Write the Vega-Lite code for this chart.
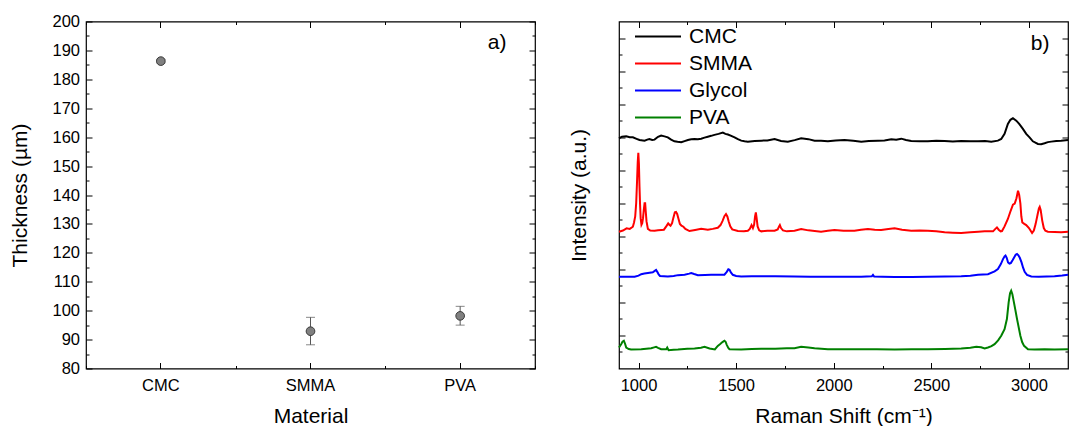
{
  "$schema": "https://vega.github.io/schema/vega-lite/v6.json",
  "background": "white",
  "padding": {"left": 9, "top": 12.5, "right": 4, "bottom": 0},
  "config": {
    "font": "Liberation Sans",
    "view": {"stroke": "#000", "strokeWidth": 1.2},
    "axis": {"grid": false, "domain": false, "tickColor": "#000", "tickWidth": 1, "labelColor": "#000", "titleColor": "#000", "labelFont": "Liberation Sans", "titleFont": "Liberation Sans", "labelFontSize": 16.5, "titleFontSize": 21, "titleFontWeight": "normal"},
    "concat": {"spacing": 30}
  },
  "resolve": {"legend": {"color": "independent"}, "scale": {"color": "independent"}},
  "hconcat": [
    {
      "width": 449,
      "height": 347,
      "data": {"values": [
        {"Material": "CMC", "Thickness": 186.3, "lo": 185.7, "hi": 186.9},
        {"Material": "SMMA", "Thickness": 92.9, "lo": 88.2, "hi": 97.7},
        {"Material": "PVA", "Thickness": 98.2, "lo": 95.0, "hi": 101.5}
      ]},
      "resolve": {"axis": {"x": "independent", "y": "independent"}},
      "layer": [
        {
          "mark": {"type": "rule", "color": "#555", "strokeWidth": 1},
          "encoding": {
            "x": {"field": "Material", "type": "nominal", "sort": ["CMC", "SMMA", "PVA"], "scale": {"type": "band", "paddingInner": 0, "paddingOuter": 0},
              "axis": {"orient": "bottom", "title": "Material", "labelAngle": 0, "tickSize": -6, "labelPadding": 15, "titlePadding": 11}},
            "y": {"field": "lo", "type": "quantitative", "scale": {"domain": [80, 200], "nice": false, "zero": false},
              "axis": {"orient": "left", "title": "Thickness (µm)", "values": [80,90,100,110,120,130,140,150,160,170,180,190,200],
                "tickSize": -6, "labelPadding": 12.5, "titlePadding": 21}},
            "y2": {"field": "hi"}
          }
        },
        {
          "mark": {"type": "tick", "color": "#555", "size": 9, "thickness": 1, "orient": "horizontal"},
          "encoding": {
            "x": {"field": "Material", "type": "nominal", "sort": ["CMC", "SMMA", "PVA"],
              "axis": {"orient": "bottom", "tickBand": "extent", "labels": false, "title": null, "tickSize": -3}},
            "y": {"field": "lo", "type": "quantitative",
              "axis": {"orient": "left", "values": [85,95,105,115,125,135,145,155,165,175,185,195], "tickSize": -3, "labels": false, "title": null}}
          }
        },
        {
          "mark": {"type": "tick", "color": "#555", "size": 9, "thickness": 1, "orient": "horizontal"},
          "encoding": {
            "x": {"field": "Material", "type": "nominal", "sort": ["CMC", "SMMA", "PVA"],
              "axis": {"orient": "top", "labels": false, "title": null, "tickSize": -6}},
            "y": {"field": "hi", "type": "quantitative",
              "axis": {"orient": "right", "values": [80,90,100,110,120,130,140,150,160,170,180,190,200], "tickSize": -6, "labels": false, "title": null}}
          }
        },
        {
          "mark": {"type": "circle", "size": 75, "fill": "#808080", "stroke": "#3a3a3a", "strokeWidth": 1, "opacity": 1},
          "encoding": {
            "x": {"field": "Material", "type": "nominal", "sort": ["CMC", "SMMA", "PVA"],
              "axis": {"orient": "top", "tickBand": "extent", "labels": false, "title": null, "tickSize": -3}},
            "y": {"field": "Thickness", "type": "quantitative",
              "axis": {"orient": "right", "values": [85,95,105,115,125,135,145,155,165,175,185,195], "tickSize": -3, "labels": false, "title": null}}
          }
        },
        {
          "data": {"values": [{"Material": "PVA", "Thickness": 192.7, "label": "a)"}]},
          "mark": {"type": "text", "dx": 37, "fontSize": 21, "align": "center", "baseline": "middle", "color": "#000", "font": "Liberation Sans"},
          "encoding": {
            "x": {"field": "Material", "type": "nominal", "sort": ["CMC", "SMMA", "PVA"], "axis": null},
            "y": {"field": "Thickness", "type": "quantitative", "axis": null},
            "text": {"field": "label"}
          }
        }
      ]
    },
    {
      "width": 449,
      "height": 347,
      "data": {"values": [
        {"series":"CMC","shift":900,"intensity":13.93},{"series":"CMC","shift":915,"intensity":14.03},{"series":"CMC","shift":937,"intensity":14.05},{"series":"CMC","shift":955,"intensity":14.0},{"series":"CMC","shift":971,"intensity":13.99},{"series":"CMC","shift":990,"intensity":13.9},{"series":"CMC","shift":1005,"intensity":13.83},{"series":"CMC","shift":1031,"intensity":13.79},{"series":"CMC","shift":1045,"intensity":13.85},{"series":"CMC","shift":1056,"intensity":13.89},{"series":"CMC","shift":1070,"intensity":13.83},{"series":"CMC","shift":1082,"intensity":13.85},{"series":"CMC","shift":1100,"intensity":14.02},{"series":"CMC","shift":1116,"intensity":14.1},{"series":"CMC","shift":1133,"intensity":14.05},{"series":"CMC","shift":1150,"intensity":13.99},{"series":"CMC","shift":1167,"intensity":13.85},{"series":"CMC","shift":1184,"intensity":13.75},{"series":"CMC","shift":1200,"intensity":13.72},{"series":"CMC","shift":1219,"intensity":13.69},{"series":"CMC","shift":1236,"intensity":13.76},{"series":"CMC","shift":1253,"intensity":13.83},{"series":"CMC","shift":1270,"intensity":13.87},{"series":"CMC","shift":1287,"intensity":13.89},{"series":"CMC","shift":1304,"intensity":13.88},{"series":"CMC","shift":1321,"intensity":13.91},{"series":"CMC","shift":1338,"intensity":13.97},{"series":"CMC","shift":1355,"intensity":14.03},{"series":"CMC","shift":1372,"intensity":14.08},{"series":"CMC","shift":1389,"intensity":14.14},{"series":"CMC","shift":1410,"intensity":14.2},{"series":"CMC","shift":1432,"intensity":14.28},{"series":"CMC","shift":1445,"intensity":14.2},{"series":"CMC","shift":1458,"intensity":14.16},{"series":"CMC","shift":1475,"intensity":14.08},{"series":"CMC","shift":1492,"intensity":13.99},{"series":"CMC","shift":1509,"intensity":13.88},{"series":"CMC","shift":1526,"intensity":13.79},{"series":"CMC","shift":1543,"intensity":13.75},{"series":"CMC","shift":1560,"intensity":13.73},{"series":"CMC","shift":1595,"intensity":13.77},{"series":"CMC","shift":1629,"intensity":13.79},{"series":"CMC","shift":1660,"intensity":13.8},{"series":"CMC","shift":1697,"intensity":13.89},{"series":"CMC","shift":1730,"intensity":13.77},{"series":"CMC","shift":1765,"intensity":13.73},{"series":"CMC","shift":1800,"intensity":13.82},{"series":"CMC","shift":1833,"intensity":13.93},{"series":"CMC","shift":1870,"intensity":13.88},{"series":"CMC","shift":1902,"intensity":13.79},{"series":"CMC","shift":1935,"intensity":13.78},{"series":"CMC","shift":1970,"intensity":13.75},{"series":"CMC","shift":2010,"intensity":13.8},{"series":"CMC","shift":2055,"intensity":13.83},{"series":"CMC","shift":2100,"intensity":13.79},{"series":"CMC","shift":2141,"intensity":13.73},{"series":"CMC","shift":2180,"intensity":13.77},{"series":"CMC","shift":2226,"intensity":13.79},{"series":"CMC","shift":2260,"intensity":13.8},{"series":"CMC","shift":2295,"intensity":13.87},{"series":"CMC","shift":2320,"intensity":13.85},{"series":"CMC","shift":2346,"intensity":13.91},{"series":"CMC","shift":2370,"intensity":13.83},{"series":"CMC","shift":2397,"intensity":13.77},{"series":"CMC","shift":2440,"intensity":13.76},{"series":"CMC","shift":2482,"intensity":13.75},{"series":"CMC","shift":2525,"intensity":13.78},{"series":"CMC","shift":2568,"intensity":13.77},{"series":"CMC","shift":2610,"intensity":13.74},{"series":"CMC","shift":2653,"intensity":13.77},{"series":"CMC","shift":2700,"intensity":13.76},{"series":"CMC","shift":2739,"intensity":13.75},{"series":"CMC","shift":2775,"intensity":13.77},{"series":"CMC","shift":2807,"intensity":13.73},{"series":"CMC","shift":2841,"intensity":13.79},{"series":"CMC","shift":2858,"intensity":13.89},{"series":"CMC","shift":2875,"intensity":14.2},{"series":"CMC","shift":2892,"intensity":14.8},{"series":"CMC","shift":2905,"intensity":15.05},{"series":"CMC","shift":2918,"intensity":15.15},{"series":"CMC","shift":2935,"intensity":15.0},{"series":"CMC","shift":2950,"intensity":14.8},{"series":"CMC","shift":2969,"intensity":14.5},{"series":"CMC","shift":2986,"intensity":14.2},{"series":"CMC","shift":3003,"intensity":13.99},{"series":"CMC","shift":3020,"intensity":13.75},{"series":"CMC","shift":3046,"intensity":13.59},{"series":"CMC","shift":3063,"intensity":13.57},{"series":"CMC","shift":3080,"intensity":13.63},{"series":"CMC","shift":3097,"intensity":13.7},{"series":"CMC","shift":3114,"intensity":13.73},{"series":"CMC","shift":3140,"intensity":13.77},{"series":"CMC","shift":3165,"intensity":13.79},{"series":"CMC","shift":3200,"intensity":13.83},
        {"series":"SMMA","shift":900,"intensity":8.28},{"series":"SMMA","shift":920,"intensity":8.35},{"series":"SMMA","shift":939,"intensity":8.48},{"series":"SMMA","shift":955,"intensity":8.45},{"series":"SMMA","shift":971,"intensity":8.58},{"series":"SMMA","shift":977,"intensity":8.84},{"series":"SMMA","shift":983,"intensity":9.2},{"series":"SMMA","shift":988,"intensity":10.0},{"series":"SMMA","shift":992,"intensity":11.2},{"series":"SMMA","shift":996,"intensity":12.5},{"series":"SMMA","shift":999,"intensity":13.05},{"series":"SMMA","shift":1002,"intensity":12.4},{"series":"SMMA","shift":1005,"intensity":11.0},{"series":"SMMA","shift":1008,"intensity":9.9},{"series":"SMMA","shift":1011,"intensity":9.1},{"series":"SMMA","shift":1015,"intensity":8.7},{"series":"SMMA","shift":1019,"intensity":8.8},{"series":"SMMA","shift":1023,"intensity":9.1},{"series":"SMMA","shift":1027,"intensity":9.6},{"series":"SMMA","shift":1031,"intensity":10.0},{"series":"SMMA","shift":1034,"intensity":10.0},{"series":"SMMA","shift":1037,"intensity":9.5},{"series":"SMMA","shift":1041,"intensity":8.9},{"series":"SMMA","shift":1048,"intensity":8.45},{"series":"SMMA","shift":1060,"intensity":8.35},{"series":"SMMA","shift":1082,"intensity":8.34},{"series":"SMMA","shift":1100,"intensity":8.36},{"series":"SMMA","shift":1116,"intensity":8.38},{"series":"SMMA","shift":1130,"intensity":8.4},{"series":"SMMA","shift":1142,"intensity":8.6},{"series":"SMMA","shift":1152,"intensity":8.78},{"series":"SMMA","shift":1158,"intensity":8.7},{"series":"SMMA","shift":1164,"intensity":8.64},{"series":"SMMA","shift":1172,"intensity":8.8},{"series":"SMMA","shift":1178,"intensity":9.1},{"series":"SMMA","shift":1186,"intensity":9.45},{"series":"SMMA","shift":1192,"intensity":9.47},{"series":"SMMA","shift":1198,"intensity":9.35},{"series":"SMMA","shift":1205,"intensity":9.05},{"series":"SMMA","shift":1212,"intensity":8.75},{"series":"SMMA","shift":1220,"intensity":8.64},{"series":"SMMA","shift":1230,"intensity":8.58},{"series":"SMMA","shift":1240,"intensity":8.45},{"series":"SMMA","shift":1261,"intensity":8.32},{"series":"SMMA","shift":1290,"intensity":8.38},{"series":"SMMA","shift":1321,"intensity":8.45},{"series":"SMMA","shift":1355,"intensity":8.4},{"series":"SMMA","shift":1380,"intensity":8.45},{"series":"SMMA","shift":1406,"intensity":8.52},{"series":"SMMA","shift":1420,"intensity":8.68},{"series":"SMMA","shift":1430,"intensity":8.92},{"series":"SMMA","shift":1440,"intensity":9.22},{"series":"SMMA","shift":1448,"intensity":9.35},{"series":"SMMA","shift":1455,"intensity":9.2},{"series":"SMMA","shift":1462,"intensity":8.9},{"series":"SMMA","shift":1470,"intensity":8.6},{"series":"SMMA","shift":1480,"intensity":8.42},{"series":"SMMA","shift":1509,"intensity":8.32},{"series":"SMMA","shift":1540,"intensity":8.3},{"series":"SMMA","shift":1560,"intensity":8.34},{"series":"SMMA","shift":1570,"intensity":8.45},{"series":"SMMA","shift":1579,"intensity":8.68},{"series":"SMMA","shift":1586,"intensity":8.5},{"series":"SMMA","shift":1592,"intensity":8.7},{"series":"SMMA","shift":1597,"intensity":9.2},{"series":"SMMA","shift":1601,"intensity":9.45},{"series":"SMMA","shift":1605,"intensity":9.1},{"series":"SMMA","shift":1610,"intensity":8.6},{"series":"SMMA","shift":1618,"intensity":8.36},{"series":"SMMA","shift":1629,"intensity":8.3},{"series":"SMMA","shift":1660,"intensity":8.34},{"series":"SMMA","shift":1697,"intensity":8.34},{"series":"SMMA","shift":1713,"intensity":8.42},{"series":"SMMA","shift":1720,"intensity":8.6},{"series":"SMMA","shift":1724,"intensity":8.68},{"series":"SMMA","shift":1730,"intensity":8.5},{"series":"SMMA","shift":1740,"intensity":8.36},{"series":"SMMA","shift":1760,"intensity":8.3},{"series":"SMMA","shift":1799,"intensity":8.34},{"series":"SMMA","shift":1833,"intensity":8.44},{"series":"SMMA","shift":1870,"intensity":8.36},{"series":"SMMA","shift":1935,"intensity":8.28},{"series":"SMMA","shift":1970,"intensity":8.33},{"series":"SMMA","shift":2004,"intensity":8.38},{"series":"SMMA","shift":2050,"intensity":8.34},{"series":"SMMA","shift":2106,"intensity":8.34},{"series":"SMMA","shift":2140,"intensity":8.4},{"series":"SMMA","shift":2175,"intensity":8.44},{"series":"SMMA","shift":2210,"intensity":8.4},{"series":"SMMA","shift":2243,"intensity":8.38},{"series":"SMMA","shift":2280,"intensity":8.44},{"series":"SMMA","shift":2312,"intensity":8.48},{"series":"SMMA","shift":2350,"intensity":8.4},{"series":"SMMA","shift":2397,"intensity":8.34},{"series":"SMMA","shift":2440,"intensity":8.35},{"series":"SMMA","shift":2482,"intensity":8.34},{"series":"SMMA","shift":2525,"intensity":8.3},{"series":"SMMA","shift":2568,"intensity":8.24},{"series":"SMMA","shift":2610,"intensity":8.22},{"series":"SMMA","shift":2653,"intensity":8.2},{"series":"SMMA","shift":2700,"intensity":8.24},{"series":"SMMA","shift":2740,"intensity":8.28},{"series":"SMMA","shift":2773,"intensity":8.3},{"series":"SMMA","shift":2816,"intensity":8.3},{"series":"SMMA","shift":2828,"intensity":8.45},{"series":"SMMA","shift":2836,"intensity":8.54},{"series":"SMMA","shift":2845,"intensity":8.4},{"series":"SMMA","shift":2855,"intensity":8.3},{"series":"SMMA","shift":2862,"intensity":8.32},{"series":"SMMA","shift":2875,"intensity":8.6},{"series":"SMMA","shift":2892,"intensity":9.05},{"series":"SMMA","shift":2905,"intensity":9.5},{"series":"SMMA","shift":2918,"intensity":9.92},{"series":"SMMA","shift":2927,"intensity":9.98},{"series":"SMMA","shift":2936,"intensity":10.3},{"series":"SMMA","shift":2944,"intensity":10.76},{"series":"SMMA","shift":2950,"intensity":10.5},{"series":"SMMA","shift":2956,"intensity":10.0},{"series":"SMMA","shift":2961,"intensity":9.2},{"series":"SMMA","shift":2966,"intensity":8.84},{"series":"SMMA","shift":2976,"intensity":8.75},{"series":"SMMA","shift":2986,"intensity":8.68},{"series":"SMMA","shift":3000,"intensity":8.5},{"series":"SMMA","shift":3016,"intensity":8.2},{"series":"SMMA","shift":3025,"intensity":8.35},{"series":"SMMA","shift":3034,"intensity":8.74},{"series":"SMMA","shift":3044,"intensity":9.3},{"series":"SMMA","shift":3051,"intensity":9.7},{"series":"SMMA","shift":3055,"intensity":9.79},{"series":"SMMA","shift":3060,"intensity":9.6},{"series":"SMMA","shift":3068,"intensity":8.95},{"series":"SMMA","shift":3076,"intensity":8.5},{"series":"SMMA","shift":3084,"intensity":8.34},{"series":"SMMA","shift":3097,"intensity":8.28},{"series":"SMMA","shift":3131,"intensity":8.26},{"series":"SMMA","shift":3165,"intensity":8.24},{"series":"SMMA","shift":3200,"intensity":8.28},
        {"series":"Glycol","shift":900,"intensity":5.55},{"series":"Glycol","shift":940,"intensity":5.55},{"series":"Glycol","shift":980,"intensity":5.55},{"series":"Glycol","shift":1000,"intensity":5.62},{"series":"Glycol","shift":1014,"intensity":5.71},{"series":"Glycol","shift":1030,"intensity":5.75},{"series":"Glycol","shift":1048,"intensity":5.78},{"series":"Glycol","shift":1073,"intensity":5.82},{"series":"Glycol","shift":1085,"intensity":5.92},{"series":"Glycol","shift":1090,"intensity":5.96},{"series":"Glycol","shift":1096,"intensity":5.85},{"series":"Glycol","shift":1103,"intensity":5.7},{"series":"Glycol","shift":1110,"intensity":5.6},{"series":"Glycol","shift":1150,"intensity":5.57},{"series":"Glycol","shift":1180,"intensity":5.6},{"series":"Glycol","shift":1202,"intensity":5.65},{"series":"Glycol","shift":1236,"intensity":5.67},{"series":"Glycol","shift":1260,"intensity":5.74},{"series":"Glycol","shift":1270,"intensity":5.78},{"series":"Glycol","shift":1285,"intensity":5.72},{"series":"Glycol","shift":1304,"intensity":5.65},{"series":"Glycol","shift":1340,"intensity":5.66},{"series":"Glycol","shift":1372,"intensity":5.67},{"series":"Glycol","shift":1410,"intensity":5.68},{"series":"Glycol","shift":1440,"intensity":5.68},{"series":"Glycol","shift":1452,"intensity":5.85},{"series":"Glycol","shift":1460,"intensity":6.0},{"series":"Glycol","shift":1466,"intensity":5.97},{"series":"Glycol","shift":1473,"intensity":5.82},{"series":"Glycol","shift":1483,"intensity":5.67},{"series":"Glycol","shift":1500,"intensity":5.6},{"series":"Glycol","shift":1526,"intensity":5.57},{"series":"Glycol","shift":1580,"intensity":5.59},{"series":"Glycol","shift":1629,"intensity":5.59},{"series":"Glycol","shift":1700,"intensity":5.58},{"series":"Glycol","shift":1799,"intensity":5.57},{"series":"Glycol","shift":1880,"intensity":5.56},{"series":"Glycol","shift":1970,"intensity":5.55},{"series":"Glycol","shift":2060,"intensity":5.56},{"series":"Glycol","shift":2141,"intensity":5.55},{"series":"Glycol","shift":2195,"intensity":5.58},{"series":"Glycol","shift":2201,"intensity":5.67},{"series":"Glycol","shift":2207,"intensity":5.57},{"series":"Glycol","shift":2250,"intensity":5.55},{"series":"Glycol","shift":2312,"intensity":5.53},{"series":"Glycol","shift":2400,"intensity":5.54},{"series":"Glycol","shift":2482,"intensity":5.55},{"series":"Glycol","shift":2570,"intensity":5.57},{"series":"Glycol","shift":2653,"intensity":5.59},{"series":"Glycol","shift":2700,"intensity":5.62},{"series":"Glycol","shift":2739,"intensity":5.67},{"series":"Glycol","shift":2790,"intensity":5.71},{"series":"Glycol","shift":2824,"intensity":5.88},{"series":"Glycol","shift":2841,"intensity":6.02},{"series":"Glycol","shift":2856,"intensity":6.32},{"series":"Glycol","shift":2867,"intensity":6.62},{"series":"Glycol","shift":2875,"intensity":6.78},{"series":"Glycol","shift":2880,"intensity":6.83},{"series":"Glycol","shift":2886,"intensity":6.7},{"series":"Glycol","shift":2893,"intensity":6.42},{"series":"Glycol","shift":2900,"intensity":6.35},{"series":"Glycol","shift":2907,"intensity":6.38},{"series":"Glycol","shift":2916,"intensity":6.55},{"series":"Glycol","shift":2924,"intensity":6.72},{"series":"Glycol","shift":2932,"intensity":6.88},{"series":"Glycol","shift":2939,"intensity":6.93},{"series":"Glycol","shift":2946,"intensity":6.85},{"series":"Glycol","shift":2953,"intensity":6.7},{"series":"Glycol","shift":2962,"intensity":6.42},{"series":"Glycol","shift":2970,"intensity":6.1},{"series":"Glycol","shift":2978,"intensity":5.85},{"series":"Glycol","shift":2990,"intensity":5.67},{"series":"Glycol","shift":3012,"intensity":5.57},{"series":"Glycol","shift":3050,"intensity":5.55},{"series":"Glycol","shift":3090,"intensity":5.57},{"series":"Glycol","shift":3131,"intensity":5.59},{"series":"Glycol","shift":3170,"intensity":5.63},{"series":"Glycol","shift":3200,"intensity":5.67},
        {"series":"PVA","shift":900,"intensity":1.27},{"series":"PVA","shift":911,"intensity":1.47},{"series":"PVA","shift":918,"intensity":1.62},{"series":"PVA","shift":925,"intensity":1.68},{"series":"PVA","shift":931,"intensity":1.5},{"series":"PVA","shift":937,"intensity":1.27},{"series":"PVA","shift":950,"intensity":1.18},{"series":"PVA","shift":962,"intensity":1.15},{"series":"PVA","shift":1014,"intensity":1.17},{"series":"PVA","shift":1040,"intensity":1.2},{"series":"PVA","shift":1065,"intensity":1.23},{"series":"PVA","shift":1080,"intensity":1.28},{"series":"PVA","shift":1090,"intensity":1.31},{"series":"PVA","shift":1100,"intensity":1.25},{"series":"PVA","shift":1116,"intensity":1.17},{"series":"PVA","shift":1142,"intensity":1.17},{"series":"PVA","shift":1147,"intensity":1.27},{"series":"PVA","shift":1154,"intensity":1.11},{"series":"PVA","shift":1180,"intensity":1.14},{"series":"PVA","shift":1202,"intensity":1.15},{"series":"PVA","shift":1250,"intensity":1.19},{"series":"PVA","shift":1287,"intensity":1.21},{"series":"PVA","shift":1320,"intensity":1.26},{"series":"PVA","shift":1338,"intensity":1.31},{"series":"PVA","shift":1364,"intensity":1.21},{"series":"PVA","shift":1391,"intensity":1.15},{"series":"PVA","shift":1406,"intensity":1.37},{"series":"PVA","shift":1417,"intensity":1.47},{"series":"PVA","shift":1430,"intensity":1.6},{"series":"PVA","shift":1440,"intensity":1.68},{"series":"PVA","shift":1446,"intensity":1.62},{"series":"PVA","shift":1452,"intensity":1.43},{"series":"PVA","shift":1460,"intensity":1.25},{"series":"PVA","shift":1466,"intensity":1.17},{"series":"PVA","shift":1526,"intensity":1.15},{"series":"PVA","shift":1580,"intensity":1.18},{"series":"PVA","shift":1629,"intensity":1.19},{"series":"PVA","shift":1700,"intensity":1.2},{"series":"PVA","shift":1760,"intensity":1.22},{"series":"PVA","shift":1799,"intensity":1.23},{"series":"PVA","shift":1833,"intensity":1.31},{"series":"PVA","shift":1870,"intensity":1.27},{"series":"PVA","shift":1902,"intensity":1.23},{"series":"PVA","shift":1970,"intensity":1.17},{"series":"PVA","shift":2050,"intensity":1.17},{"series":"PVA","shift":2141,"intensity":1.17},{"series":"PVA","shift":2220,"intensity":1.16},{"series":"PVA","shift":2312,"intensity":1.15},{"series":"PVA","shift":2400,"intensity":1.16},{"series":"PVA","shift":2482,"intensity":1.17},{"series":"PVA","shift":2570,"intensity":1.18},{"series":"PVA","shift":2653,"intensity":1.21},{"series":"PVA","shift":2700,"intensity":1.26},{"series":"PVA","shift":2730,"intensity":1.31},{"series":"PVA","shift":2755,"intensity":1.28},{"series":"PVA","shift":2773,"intensity":1.21},{"series":"PVA","shift":2790,"intensity":1.27},{"series":"PVA","shift":2808,"intensity":1.35},{"series":"PVA","shift":2824,"intensity":1.47},{"series":"PVA","shift":2842,"intensity":1.7},{"series":"PVA","shift":2858,"intensity":1.98},{"series":"PVA","shift":2875,"intensity":2.38},{"series":"PVA","shift":2887,"intensity":2.99},{"series":"PVA","shift":2896,"intensity":4.0},{"series":"PVA","shift":2903,"intensity":4.55},{"series":"PVA","shift":2909,"intensity":4.71},{"series":"PVA","shift":2915,"intensity":4.5},{"series":"PVA","shift":2923,"intensity":4.0},{"series":"PVA","shift":2931,"intensity":3.5},{"series":"PVA","shift":2939,"intensity":2.99},{"series":"PVA","shift":2956,"intensity":1.98},{"series":"PVA","shift":2965,"intensity":1.6},{"series":"PVA","shift":2975,"intensity":1.37},{"series":"PVA","shift":2995,"intensity":1.17},{"series":"PVA","shift":3029,"intensity":1.15},{"series":"PVA","shift":3080,"intensity":1.16},{"series":"PVA","shift":3131,"intensity":1.15},{"series":"PVA","shift":3200,"intensity":1.17}
      ]},
      "resolve": {"axis": {"x": "independent", "y": "independent"}},
      "layer": [
        {
          "transform": [{"filter": "datum.series === 'CMC'"}],
          "mark": {"type": "line", "strokeWidth": 2},
          "encoding": {
            "x": {"field": "shift", "type": "quantitative", "scale": {"domain": [900, 3200], "nice": false, "zero": false},
              "axis": {"orient": "bottom", "title": "Raman Shift (cm⁻¹)", "values": [1000,1500,2000,2500,3000], "format": "d", "tickSize": -6, "labelPadding": 15, "titlePadding": 11}},
            "y": {"field": "intensity", "type": "quantitative", "scale": {"domain": [0, 21], "nice": false, "zero": false},
              "axis": {"orient": "left", "title": "Intensity (a.u.)", "values": [2,4,6,8,10,12,14,16,18,20], "labels": false, "tickSize": -6, "titlePadding": 29}},
            "color": {"field": "series", "type": "nominal",
              "scale": {"domain": ["CMC", "SMMA", "Glycol", "PVA"], "range": ["#000000", "#ff0000", "#0000ff", "#008000"]},
              "legend": {"orient": "none", "legendX": 28, "legendY": 4, "title": null, "symbolType": "M-2.3,0H2.3", "symbolSize": 400, "symbolStrokeWidth": 2, "labelFontSize": 21, "labelFont": "Liberation Sans", "labelColor": "#000", "labelOffset": 20, "rowPadding": 6, "padding": 0}}
          }
        },
        {
          "transform": [{"filter": "datum.series === 'SMMA'"}],
          "mark": {"type": "line", "strokeWidth": 2},
          "encoding": {
            "x": {"field": "shift", "type": "quantitative",
              "axis": {"orient": "bottom", "values": [1250,1750,2250,2750], "labels": false, "title": null, "tickSize": -3}},
            "y": {"field": "intensity", "type": "quantitative",
              "axis": {"orient": "left", "values": [1,3,5,7,9,11,13,15,17,19], "labels": false, "title": null, "tickSize": -3}},
            "color": {"field": "series", "type": "nominal"}
          }
        },
        {
          "transform": [{"filter": "datum.series === 'Glycol' || datum.series === 'PVA'"}],
          "mark": {"type": "line", "strokeWidth": 2},
          "encoding": {
            "x": {"field": "shift", "type": "quantitative",
              "axis": {"orient": "top", "values": [1000,1500,2000,2500,3000], "labels": false, "title": null, "tickSize": -6}},
            "y": {"field": "intensity", "type": "quantitative",
              "axis": {"orient": "right", "values": [2,4,6,8,10,12,14,16,18,20], "labels": false, "title": null, "tickSize": -6}},
            "color": {"field": "series", "type": "nominal"}
          }
        },
        {
          "data": {"values": [{"shift": 3057, "intensity": 19.65, "label": "b)"}]},
          "mark": {"type": "text", "fontSize": 21, "align": "center", "baseline": "middle", "color": "#000", "font": "Liberation Sans"},
          "encoding": {
            "x": {"field": "shift", "type": "quantitative",
              "axis": {"orient": "top", "values": [1250,1750,2250,2750], "labels": false, "title": null, "tickSize": -3}},
            "y": {"field": "intensity", "type": "quantitative",
              "axis": {"orient": "right", "values": [1,3,5,7,9,11,13,15,17,19], "labels": false, "title": null, "tickSize": -3}},
            "text": {"field": "label"}
          }
        }
      ]
    }
  ]
}
